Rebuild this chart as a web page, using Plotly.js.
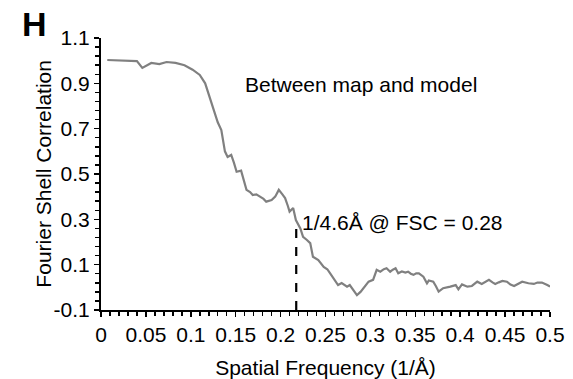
<!DOCTYPE html>
<html>
<head>
<meta charset="utf-8">
<script src="https://cdn.plot.ly/plotly-3.0.1.min.js"></script>
<style>html,body{margin:0;padding:0;background:#fff;}#chart{width:573px;height:379px;}</style>
</head>
<body>
<div id="chart"></div>
<script>
// FSC curve between map and model
const freq = [0.007,0.02,0.03,0.04,0.046,0.056,0.065,0.073,0.083,0.093,0.102,0.11,0.116,0.121,0.126,0.13,0.134,0.138,0.141,0.145,0.148,0.151,0.156,0.159,0.162,0.166,0.169,0.173,0.177,0.181,0.184,0.19,0.194,0.198,0.202,0.205,0.208,0.21,0.214,0.217,0.222,0.225,0.229,0.233,0.236,0.242,0.248,0.252,0.255,0.259,0.264,0.268,0.274,0.277,0.281,0.285,0.289,0.292,0.298,0.303,0.307,0.311,0.315,0.318,0.322,0.325,0.328,0.331,0.335,0.339,0.342,0.345,0.348,0.351,0.354,0.359,0.363,0.365,0.37,0.373,0.376,0.381,0.385,0.389,0.395,0.398,0.402,0.408,0.413,0.419,0.424,0.428,0.432,0.436,0.439,0.443,0.447,0.452,0.456,0.46,0.465,0.469,0.476,0.482,0.486,0.491,0.497,0.5];
const fsc  = [1.003,1.0,1.0,0.998,0.968,0.99,0.985,0.994,0.99,0.98,0.96,0.937,0.9,0.84,0.78,0.728,0.694,0.6,0.575,0.584,0.55,0.51,0.515,0.47,0.43,0.42,0.407,0.41,0.4,0.39,0.378,0.385,0.4,0.43,0.41,0.394,0.36,0.334,0.35,0.297,0.26,0.223,0.21,0.195,0.135,0.12,0.09,0.08,0.063,0.04,0.01,0.019,0.003,0.01,-0.01,-0.034,-0.02,-0.004,0.025,0.033,0.077,0.069,0.08,0.084,0.069,0.078,0.084,0.062,0.07,0.065,0.069,0.06,0.055,0.062,0.062,0.047,0.018,0.03,0.025,0.005,-0.019,-0.004,-0.002,0.003,0.01,-0.009,0.013,0.003,0.006,0.025,0.015,0.025,0.033,0.022,0.015,0.022,0.028,0.025,0.012,0.006,0.015,0.025,0.018,0.015,0.021,0.021,0.01,0.003];
// resolution marker
const cutoffX = [0.2174, 0.2174];
const cutoffY = [-0.1, 0.265];
const xTickVals = [0,0.05,0.1,0.15,0.2,0.25,0.3,0.35,0.4,0.45,0.5];
const xTickText = ["0","0.05","0.1","0.15","0.2","0.25","0.3","0.35","0.4","0.45","0.5"];
const yTickVals = [-0.1,0.1,0.3,0.5,0.7,0.9,1.1];
const yTickText = ["-0.1","0.1","0.3","0.5","0.7","0.9","1.1"];

const font = {family: "Liberation Sans, Arial, sans-serif", color: "#000", size: 21};

const traces = [
  {x: freq, y: fsc, type: "scatter", mode: "lines", line: {color: "#808080", width: 2.2}, hoverinfo: "skip"},
  {x: cutoffX, y: cutoffY, type: "scatter", mode: "lines", line: {color: "#000", width: 2.2, dash: "dash"}, hoverinfo: "skip"}
];

const layout = {
  width: 573, height: 379,
  margin: {l: 101, r: 23, t: 38, b: 69},
  paper_bgcolor: "#fff", plot_bgcolor: "#fff",
  showlegend: false,
  font: font,
  xaxis: {
    range: [0, 0.5], tickvals: xTickVals, ticktext: xTickText,
    showgrid: false, zeroline: false, showline: true, linecolor: "#000", linewidth: 2,
    ticks: "outside", ticklen: 5, tickwidth: 1.5, tickcolor: "#000",
    minor: {dtick: 0.01, tick0: 0, ticks: "outside", ticklen: 4, tickwidth: 1.5, tickcolor: "#000", showgrid: false},
    tickfont: font,
    title: {text: "Spatial Frequency (1/Å)", font: font, standoff: 15}
  },
  yaxis: {
    range: [-0.1, 1.1], tickvals: yTickVals, ticktext: yTickText,
    showgrid: false, zeroline: false, showline: true, linecolor: "#000", linewidth: 2,
    ticks: "outside", ticklen: 5, tickwidth: 1.5, tickcolor: "#000",
    minor: {dtick: 0.04, tick0: -0.1, ticks: "outside", ticklen: 4, tickwidth: 1.5, tickcolor: "#000", showgrid: false},
    tickfont: font
  },
  annotations: [
    {text: "Fourier Shell Correlation", xref: "paper", yref: "paper", x: -0.13, y: 0.5, xanchor: "center", yanchor: "middle", textangle: -90, showarrow: false, font: font},
    {text: "<b>H</b>", xref: "paper", yref: "paper", x: -0.181, y: 1.05, xanchor: "left", yanchor: "middle", showarrow: false, font: {family: font.family, size: 34, color: "#000"}},
    {text: "Between map and model", xref: "x", yref: "y", x: 0.29, y: 0.893, xanchor: "center", yanchor: "middle", showarrow: false, font: font},
    {text: "1/4.6Å @ FSC = 0.28", xref: "x", yref: "y", x: 0.222, y: 0.284, xanchor: "left", yanchor: "middle", showarrow: false, font: font}
  ]
};

Plotly.newPlot("chart", traces, layout, {staticPlot: true, displayModeBar: false});
</script>
</body>
</html>
